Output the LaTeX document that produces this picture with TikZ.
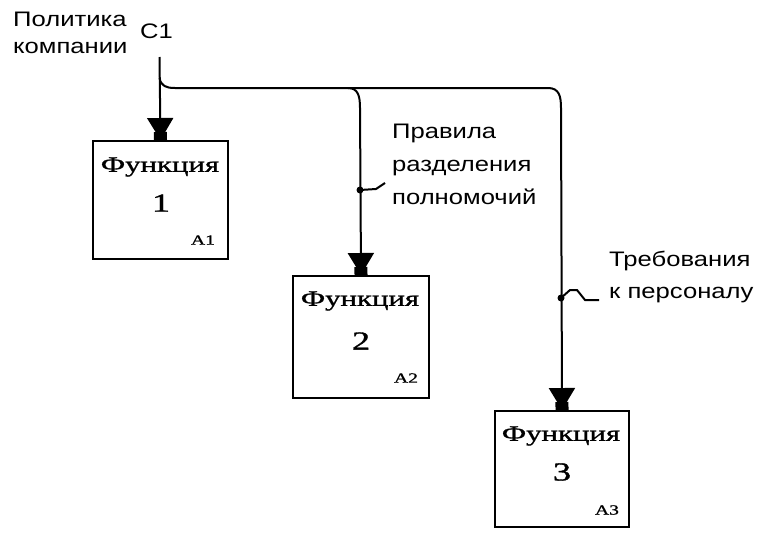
\documentclass[tikz,border=0pt]{standalone}
\usepackage{fontspec}
\setmainfont{Liberation Serif}
\newfontfamily\lblfont[FakeStretch=1.22]{Liberation Sans}
\newfontfamily\boxfont[FakeStretch=1.4,FakeBold=1.2]{Liberation Serif}
\usetikzlibrary{arrows.meta}
\begin{document}
\begin{tikzpicture}[x=1pt,y=-1pt,
  fbox/.style={draw, line width=2pt, anchor=north west, inner sep=0pt, minimum width=135pt},
  fname/.style={font=\boxfont\fontsize{22}{24}\selectfont, inner sep=0pt},
  fnum/.style={font=\boxfont\fontsize{26}{28}\selectfont, inner sep=0pt},
  fcode/.style={font=\boxfont\fontsize{14}{15}\selectfont, inner sep=0pt},
  lbl/.style={font=\lblfont\fontsize{21}{#1}\selectfont, align=left, anchor=north west, inner sep=0pt},
  lbl/.default=32,
  conn/.style={line width=2pt},
  arr/.style={conn, -{Triangle[length=22pt,width=26pt,sep=-8pt] Rectangle[length=8pt,width=13pt]}},
  jdot/.style={circle, fill, inner sep=0pt, minimum size=7pt}
]
\useasboundingbox (0,0) rectangle (759,533);

% boxes
\node[fbox, minimum height=118pt] (A1) at (92,140) {};
\node[fbox, minimum width=136pt, minimum height=122pt] (A2) at (292,275) {};
\node[fbox, minimum width=134pt, minimum height=116pt] (A3) at (494,410) {};

\node[fname] (f1) at (160,167) {Функция};
\node[fnum] (n1) at (161,203) {1};
\node[fcode] (c1) at (203,240) {A1};

\node[fname] (f2) at (360,301) {Функция};
\node[fnum] (n2) at (361,341) {2};
\node[fcode] (c2) at (406,378) {A2};

\node[fname] (f3) at (561,436) {Функция};
\node[fnum] (n3) at (562,472) {3};
\node[fcode] (c3) at (607,510) {A3};

% labels
\node[lbl=27] (pol) at (13,12) {Политика\\компании};
\node[lbl] (C1) at (140,24) {C1};
\node[lbl=33] (prav) at (392,124) {Правила\\разделения\\полномочий};
\node[lbl=32] (treb) at (609,251) {Требования\\к персоналу};

% connectors
\coordinate (top) at (159.5,57);
\coordinate (br) at (159.5,78);
\coordinate (h0) at (175,88);
\coordinate (h1) at (348,88);
\coordinate (v1) at (360,108);
\coordinate (h2) at (548,88);
\coordinate (v2) at (561,108);

\draw[arr] (top) -- (A1.north);
\draw[conn] (br) .. controls (161,86) and (166,88) .. (h0) -- (h1);
\draw[arr] (h1) .. controls (358,88) and (360,96) .. (v1) -- (A2.north);
\draw[arr] (h1) -- (h2) .. controls (559,88) and (561,96) .. (v2) -- (A3.north);

% label squiggles
\node[jdot] (d1) at (360,190) {};
\coordinate (s1a) at (376,189);
\coordinate (s1b) at (385,183);
\draw[conn] (d1.center) -- (s1a) -- (s1b);

\node[jdot] (d2) at (561,298) {};
\coordinate (s2a) at (570,290);
\coordinate (s2b) at (577,290);
\coordinate (s2c) at (585,300);
\coordinate (s2d) at (599,300);
\draw[conn] (d2.center) -- (s2a) -- (s2b) -- (s2c) -- (s2d);
\end{tikzpicture}
\end{document}
